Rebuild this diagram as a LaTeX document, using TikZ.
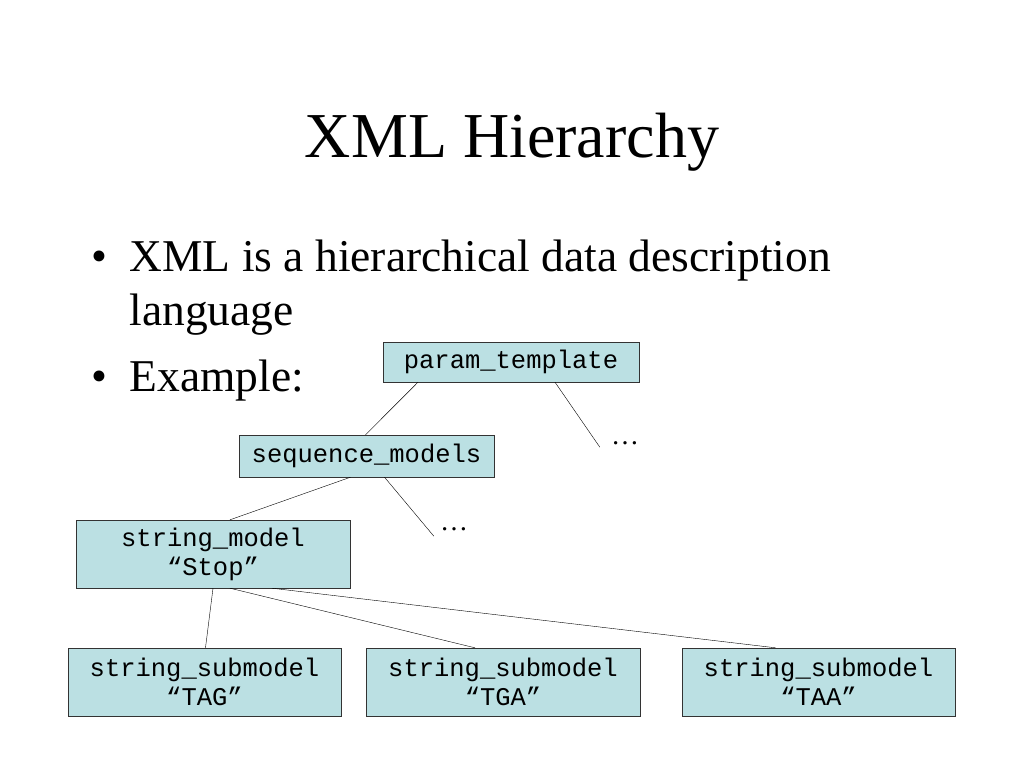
\documentclass[tikz,border=0pt]{standalone}
\usepackage{fontspec}
\setmainfont{Liberation Serif}
\setmonofont{Liberation Mono}
\definecolor{boxcyan}{RGB}{187,224,227}

\tikzset{
	xmlbox/.style={draw=black!80, fill=boxcyan, font=\fontsize{25.5}{29}\selectfont\ttfamily, align=center, inner sep=0pt},
	bullettext/.style={anchor=base west, font=\fontsize{45.5}{52}\selectfont}
}

\begin{document}
\begin{tikzpicture}[x=1pt, y=-1pt]
		\useasboundingbox[fill=white] (0,0) rectangle (1024,768);
		
		% Title
		\node[anchor=base, font=\fontsize{64}{76}\selectfont] (title) at (512,157) {XML Hierarchy};
		
		% Bullets
		\node[bullettext] (bulA) at (88,271) {\textbullet};
		\node[bullettext] (lineA) at (126,271) {XML is a hierarchical data description};
		\node[bullettext] (lineB) at (126,325) {language};
		\node[bullettext] (bulB) at (88,391) {\textbullet};
		\node[bullettext] (lineC) at (126,391) {Example:};
		
		% Tree nodes
		\node[xmlbox, minimum width=256pt, minimum height=40pt] (param) at (511,362) {param\_template};
		\node[xmlbox, minimum width=255pt, minimum height=42pt] (seqmod) at (366.5,456) {sequence\_models};
		\node[xmlbox, minimum width=274pt, minimum height=68pt] (strmod) at (213,554) {string\_model\\“Stop”};
		\node[xmlbox, minimum width=273pt, minimum height=68pt] (subA) at (204.5,682) {string\_submodel\\“TAG”};
		\node[xmlbox, minimum width=274pt, minimum height=68pt] (subB) at (503,682) {string\_submodel\\“TGA”};
		\node[xmlbox, minimum width=273pt, minimum height=68pt] (subC) at (818.5,682) {string\_submodel\\“TAA”};
		
		% Omitted children
		\node[font=\fontsize{28}{32}\selectfont, inner sep=0pt] (dotsA) at (625,443) {…};
		\node[font=\fontsize{28}{32}\selectfont, inner sep=0pt] (dotsB) at (454,529) {…};
		
		% Connectors
		\draw ([xshift=-93pt]param.south) -- ([xshift=-1pt]seqmod.north);
		\draw ([xshift=44pt]param.south) -- ([xshift=-11pt,yshift=-6pt]dotsA.north west);
		\draw ([xshift=-16pt]seqmod.south) -- ([xshift=17pt]strmod.north);
		\draw ([xshift=18pt]seqmod.south) -- ([xshift=-6pt,yshift=-9pt]dotsB.north west);
		\draw (strmod.south) -- ([xshift=1pt]subA.north);
		\draw ([xshift=17pt]strmod.south) -- ([xshift=-28pt]subB.north);
		\draw ([xshift=59pt]strmod.south) -- ([xshift=-43pt]subC.north);
		
	\end{tikzpicture}
\end{document}
